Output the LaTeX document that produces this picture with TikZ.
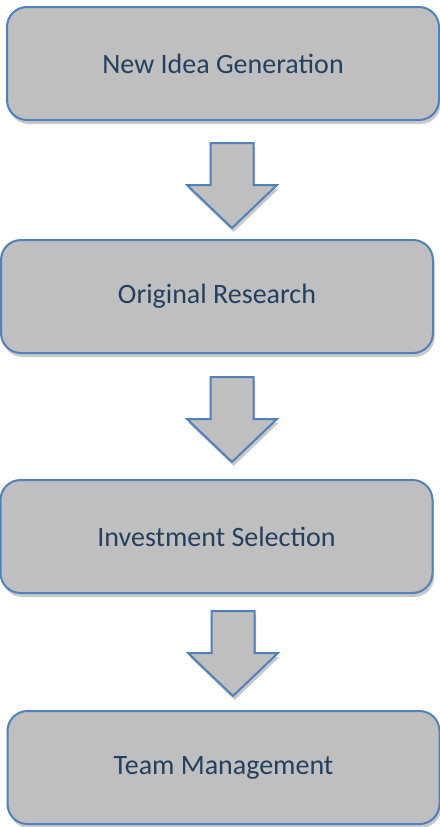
\documentclass[tikz,border=0pt]{standalone}
\usepackage{fontspec}
\setmainfont{Carlito}
\usetikzlibrary{positioning,shadows}
\definecolor{stagefill}{HTML}{BFBFBF}
\definecolor{stageline}{HTML}{4F81BD}
\definecolor{stagetext}{HTML}{243F60}
% block arrow hanging from its top centre
\newcommand\blockarrow[1]{%
\draw[fatarrow] (#1) ++(-21.5,0) -- ++(43,0) -- ++(0,42) -- ++(23.5,0)
  -- ++(-45,43) -- ++(-45,-43) -- ++(23.5,0) -- cycle;
}

\begin{document}
\begin{tikzpicture}[x=0.5pt,y=-0.5pt,
  stage/.style={draw=stageline, line width=1pt, fill=stagefill,
    rounded corners=10pt, minimum width=216pt, minimum height=56.5pt,
    text=stagetext, font=\fontsize{14}{17}\selectfont,
    drop shadow={shadow xshift=0.8pt, shadow yshift=-2pt, opacity=0.3, fill=black!70}},
  fatarrow/.style={draw=stageline, line width=1pt, fill=stagefill, line join=miter,
    drop shadow={shadow xshift=0.8pt, shadow yshift=-2pt, opacity=0.3, fill=black!70}}]
	\useasboundingbox (0,0) rectangle (440,827);

	%% the four stages
	\node[stage] (idea)     at (223,63.5)    {New Idea Generation};
	\node[stage] (research) at (217,296.5)   {Original Research};
	\node[stage] (select)   at (216.5,536.5) {Investment Selection};
	\node[stage] (team)     at (223.5,767.5) {Team Management};

	%% arrows in between
	\coordinate (arrA) at (232,143);
	\coordinate (arrB) at (232,377);
	\coordinate (arrC) at (233,611);
	\blockarrow{arrA}
	\blockarrow{arrB}
	\blockarrow{arrC}
\end{tikzpicture}
\end{document}
